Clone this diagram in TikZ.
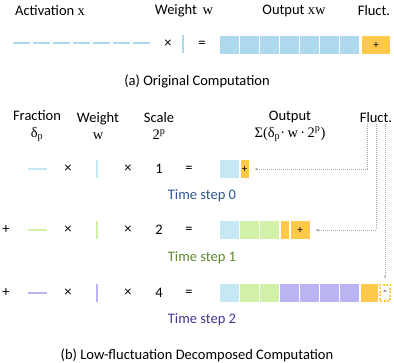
\documentclass[tikz,border=0pt]{standalone}
\usepackage{fontspec}
\setmainfont{Carlito}
\newfontfamily\serf{Liberation Serif}
\usetikzlibrary{arrows.meta,positioning}
\definecolor{lfblue}{RGB}{173,216,238}
\definecolor{lfsky}{RGB}{197,232,245}
\definecolor{lfgreen}{RGB}{210,240,168}
\definecolor{lfpurple}{RGB}{186,180,242}
\definecolor{lfyellow}{RGB}{255,201,77}
\definecolor{lfgrey}{RGB}{165,165,165}
\definecolor{lfdblue}{RGB}{47,85,151}
\definecolor{lfdgreen}{RGB}{94,135,45}
\definecolor{lfdpurple}{RGB}{64,55,145}

\begin{document}
\begin{tikzpicture}[x=1pt,y=-1pt,font=\fontsize{14.5}{17}\selectfont,
  hd/.style={align=center,inner sep=1pt},
  cell/.style={minimum width=19pt,minimum height=18pt,inner sep=0pt,font=\fontsize{11}{12}\selectfont},
  seg/.style={line width=2pt},
  tstep/.style={inner sep=1pt},
  flux/.style={draw=lfgrey,line width=0.5pt,dash pattern=on 1pt off 1pt,shorten >=6pt,-{Stealth[length=3pt,width=2.5pt]}}]
\useasboundingbox (0,0) rectangle (394,363);
% (a) original computation
\node[hd] (act) at (50,11) {Activation {\serf x}};
\node[hd] (wt) at (184,11) {Weight\ \,{\serf w}};
\node[hd] (out) at (294,11) {Output {\serf xw}};
\node[hd] (fl) at (374,11) {Fluct.};
\draw[seg,lfblue,dash pattern=on 17pt off 3pt] (13,43) -- (152,43);
\node (ma) at (168,44) {×};
\draw[seg,lfblue] (183,35) -- (183,53);
\node (ea) at (202,44) {=};
\foreach \i in {0,...,6} \node[cell,fill=lfblue] (o\i) at (229.5+20*\i,45) {};
\node[cell,fill=lfyellow,minimum width=28pt] (fa) at (376,45) {+};
\node[hd] (capa) at (197,81) {(a) Original Computation};
% (b) decomposed computation
\node[hd] (hfr) at (37,126) {Fraction\\{\serf δ\textsubscript{p}}};
\node[hd] (hwt) at (98,126) {Weight\\{\serf w}};
\node[hd] (hsc) at (159,126) {Scale\\{\serf 2\textsuperscript{p}}};
\node[hd] (hout) at (290,126) {Output\\{\serf Σ(δ\textsubscript{p}·\,w\,·\,2\textsuperscript{p})}};
\node[hd] (hfl) at (376,118) {Fluct.};
% time step 0
\draw[seg,lfsky] (28,169) -- (47,169);
\node (m0a) at (68,169) {×};
\draw[seg,lfsky] (97,160) -- (97,178);
\node (m0b) at (128,169) {×};
\node (s0) at (159,169) {1};
\node (e0) at (189,169) {=};
\node[cell,fill=lfsky] (c0a) at (229.5,169) {};
\node[cell,fill=lfyellow,minimum width=8pt] (f0) at (244.5,169) {+};
\node[tstep,text=lfdblue] (t0) at (202,196) {Time step 0};
% time step 1
\node (p1) at (6,230) {+};
\draw[seg,lfgreen] (28,230) -- (47,230);
\node (m1a) at (68,230) {×};
\draw[seg,lfgreen] (97,221) -- (97,239);
\node (m1b) at (128,230) {×};
\node (s1) at (159,230) {2};
\node (e1) at (189,230) {=};
\node[cell,fill=lfsky] (c1a) at (229.5,230) {};
\node[cell,fill=lfgreen] (c1b) at (249.5,230) {};
\node[cell,fill=lfgreen] (c1c) at (269.5,230) {};
\node[cell,fill=lfyellow,minimum width=8pt] (c1d) at (284.5,230) {};
\node[cell,fill=lfyellow] (f1) at (300,230) {+};
\node[tstep,text=lfdgreen] (t1) at (202,258) {Time step 1};
% time step 2
\node (p2) at (6,293) {+};
\draw[seg,lfpurple] (28,293) -- (47,293);
\node (m2a) at (68,293) {×};
\draw[seg,lfpurple] (97,284) -- (97,302);
\node (m2b) at (128,293) {×};
\node (s2) at (159,293) {4};
\node (e2) at (189,293) {=};
\node[cell,fill=lfsky] (c2a) at (229.5,293) {};
\node[cell,fill=lfgreen] (c2b) at (249.5,293) {};
\node[cell,fill=lfgreen] (c2c) at (269.5,293) {};
\foreach \i in {0,...,3} \node[cell,fill=lfpurple] (q\i) at (289.5+20*\i,293) {};
\node[cell,fill=lfyellow,minimum width=17pt] (c2y) at (369.5,293) {};
\node[cell,draw=lfyellow,fill=white,line width=1.2pt,dash pattern=on 2pt off 1.5pt,minimum width=10pt,minimum height=16pt] (d2) at (385,293) {-};
\node[tstep,text=lfdpurple] (t2) at (202,320) {Time step 2};
\node[hd] (capb) at (197,355) {(b) Low-fluctuation Decomposed Computation};
% fluctuation arrows
\draw[flux] ([xshift=-9pt]hfl.south) |- (f0.east);
\draw[flux] (hfl.south) |- (f1.east);
\draw[flux] (d2.north |- hfl.south) -- (d2.north);
\end{tikzpicture}
\end{document}
